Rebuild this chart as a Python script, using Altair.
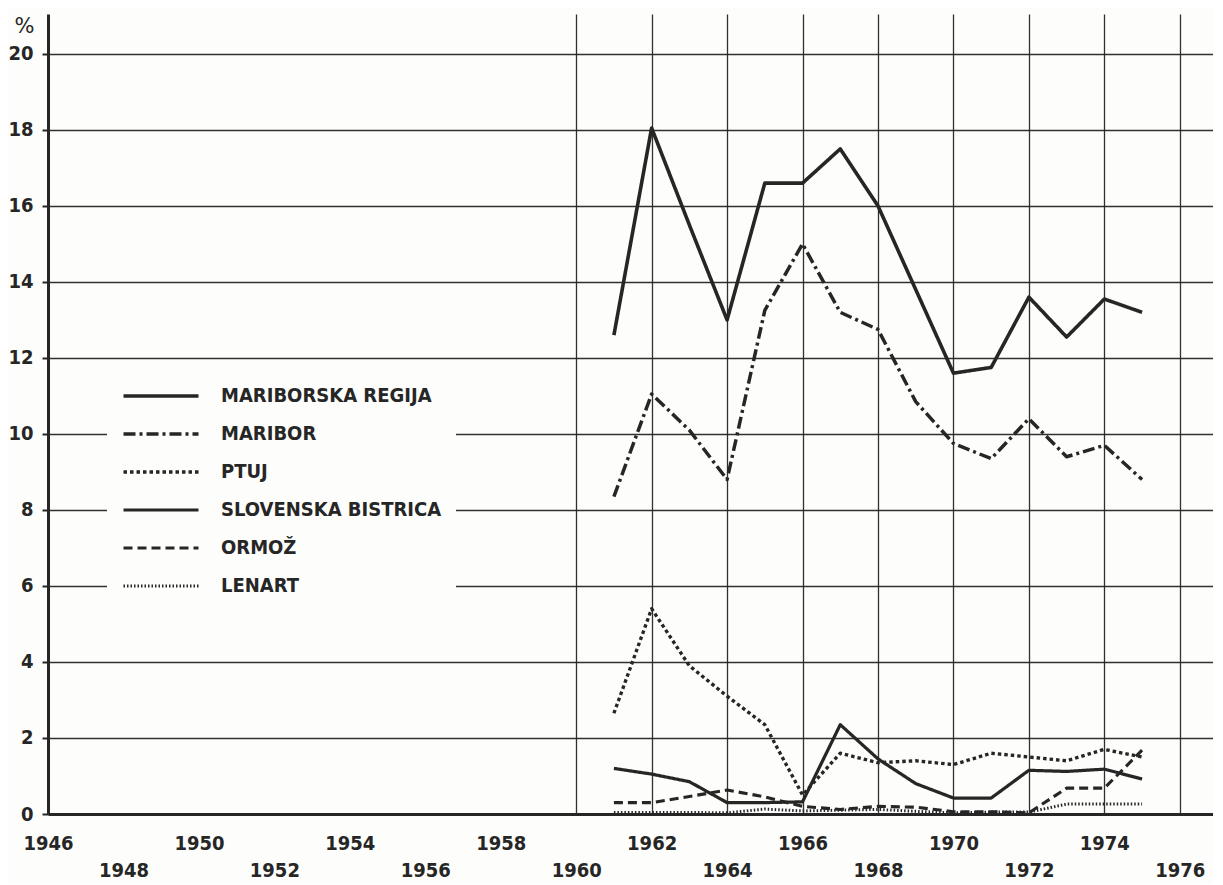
import altair as alt
import pandas as pd

# ---------------- data ----------------
years = list(range(1961, 1976))

series_names = ["MARIBORSKA REGIJA", "MARIBOR", "PTUJ",
                "SLOVENSKA BISTRICA", "ORMOŽ", "LENART"]

mariborska_regija = [12.6, 18.05, 15.5, 13.0, 16.6, 16.6, 17.5, 16.0, 13.8, 11.6, 11.75, 13.6, 12.55, 13.55, 13.2]
maribor = [8.35, 11.05, 10.1, 8.8, 13.25, 15.0, 13.2, 12.75, 10.85, 9.75, 9.35, 10.4, 9.4, 9.7, 8.8]
ptuj = [2.65, 5.4, 3.9, 3.1, 2.35, 0.5, 1.6, 1.35, 1.4, 1.3, 1.6, 1.5, 1.4, 1.7, 1.5]
slovenska_bistrica = [1.2, 1.05, 0.85, 0.3, 0.3, 0.32, 2.35, 1.45, 0.8, 0.42, 0.42, 1.15, 1.12, 1.18, 0.92]
ormoz = [0.3, 0.3, 0.46, 0.63, 0.45, 0.2, 0.12, 0.2, 0.18, 0.06, 0.06, 0.03, 0.68, 0.68, 1.68]
lenart = [0.04, 0.04, 0.04, 0.03, 0.13, 0.08, 0.1, 0.12, 0.07, 0.03, 0.05, 0.05, 0.26, 0.26, 0.26]

x_ticks = list(range(1946, 1977, 2))
y_ticks = list(range(0, 21, 2))

all_values = [mariborska_regija, maribor, ptuj, slovenska_bistrica, ormoz, lenart]
rows = []
for name, vals in zip(series_names, all_values):
    for yr, v in zip(years, vals):
        rows.append({"leto": yr, "delez": v, "serija": name})
df = pd.DataFrame(rows)

# ---------------- styling ----------------
INK = "#262626"
FONT = "'Liberation Sans Narrow', 'DejaVu Sans Condensed', 'Roboto Condensed', 'Arial Narrow', sans-serif"

dashes = [[1, 0], [12, 4, 3, 4], [3.5, 3], [1, 0], [9, 5], [1.5, 2]]
widths = [3.6, 3.0, 3.6, 2.2, 2.5, 1.8]

legend = alt.Legend(
    title=None,
    orient="none",
    legendX=59,
    legendY=358,
    padding=14,
    fillColor="#fdfdfb",
    symbolType="M-1,0H9",
    symbolSize=225,
    symbolStrokeColor=INK,
    symbolFillColor="transparent",
    labelFont=FONT,
    labelFontSize=20,
    labelFontWeight="bold",
    labelColor=INK,
    labelOffset=80,
    labelLimit=400,
    rowPadding=18,
)

chart = alt.Chart(df).mark_line(
    strokeJoin="round", color=INK
).encode(
    x=alt.X(
        "leto:Q",
        scale=alt.Scale(domain=[1946, 1976.88], nice=False, zero=False),
        axis=alt.Axis(
            values=x_ticks,
            format="d",
            title=None,
            ticks=False,
            labelExpr="datum.value % 4 == 0 ? ['', datum.label] : datum.label",
            labelFont=FONT,
            labelFontSize=20,
            labelFontWeight="bold",
            labelColor=INK,
            labelPadding=19,
            labelBaseline="top",
            labelLineHeight=27,
            labelOverlap=False,
            labelFlush=False,
            domainColor=INK,
            domainWidth=3,
            grid=True,
            gridColor=INK,
            gridWidth=1.3,
            gridOpacity={"condition": {"test": "datum.value < 1960", "value": 0}, "value": 0.95},
        ),
    ),
    y=alt.Y(
        "delez:Q",
        scale=alt.Scale(domain=[0, 21.05], nice=False),
        axis=alt.Axis(
            values=y_ticks,
            format="d",
            title="%",
            titleAngle=0,
            titleX=-24,
            titleY=12,
            titleAlign="center",
            titleBaseline="middle",
            titleFont="DejaVu Sans",
            titleFontSize=21,
            titleFontWeight="normal",
            titleColor=INK,
            labelFont=FONT,
            labelFontSize=20,
            labelFontWeight="bold",
            labelColor=INK,
            labelPadding=9,
            tickSize=6,
            tickWidth=2,
            tickColor=INK,
            domainColor=INK,
            domainWidth=3,
            grid=True,
            gridColor=INK,
            gridWidth=1.3,
            gridOpacity=0.95,
        ),
    ),
    strokeDash=alt.StrokeDash(
        "serija:N", scale=alt.Scale(domain=series_names, range=dashes), legend=legend
    ),
    strokeWidth=alt.StrokeWidth(
        "serija:N", scale=alt.Scale(domain=series_names, range=widths), legend=legend
    ),
).properties(
    width=1165,
    height=800,
    padding={"left": 40, "top": 6, "right": 0, "bottom": 70},
    autosize="none",
    background="#fdfdfb",
).configure_view(strokeWidth=0)

chart.save("out.html", embed_options={"renderer": "svg", "actions": False})
